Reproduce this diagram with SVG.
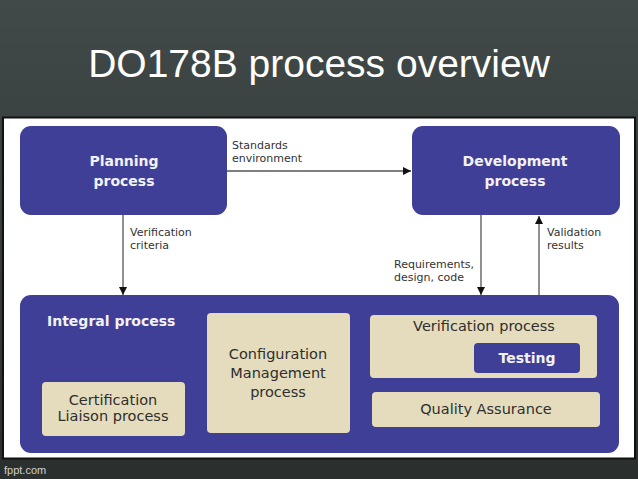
<svg xmlns="http://www.w3.org/2000/svg" width="638" height="479" viewBox="0 0 638 479">
<defs>
<linearGradient id="bg" x1="0" y1="0" x2="0" y2="1">
<stop offset="0" stop-color="#414a49"/>
<stop offset="1" stop-color="#2a2f2e"/>
</linearGradient>
<marker id="ah" viewBox="0 0 10 10" refX="10" refY="5" markerWidth="8" markerHeight="8" markerUnits="userSpaceOnUse" orient="auto">
<path d="M0,0 L10,5 L0,10 z" fill="#111"/>
</marker>
<style>
.purple{fill:#403f98}
.beige{fill:#e5dbbd}
.bw{font-family:"DejaVu Sans",Verdana,sans-serif;font-weight:bold;fill:#f2f2f2;font-size:14px}
.bt{font-family:"DejaVu Sans",Verdana,sans-serif;fill:#2e2e2e;font-size:14.5px}
.sm{font-family:"DejaVu Sans",Verdana,sans-serif;fill:#333;font-size:11px}
.ln{stroke:#555;stroke-width:1.3;fill:none}
</style>
</defs>
<rect x="0" y="0" width="638" height="479" fill="url(#bg)"/>
<rect x="0" y="458" width="638" height="21" fill="#2b302f"/>
<text x="319" y="77" text-anchor="middle" font-family="Liberation Sans, Arial, sans-serif" font-size="39" fill="#ffffff">DO178B process overview</text>
<rect x="3" y="117.5" width="632" height="341" fill="#ffffff" stroke="#111" stroke-width="2"/>
<text x="4" y="474" font-family="Liberation Sans, Arial, sans-serif" font-size="11" fill="#d0d0d0">fppt.com</text>

<g id="planning">
<rect class="purple" x="20" y="126" width="207" height="89" rx="11"/>
<text class="bw" x="124" y="166" text-anchor="middle">Planning</text>
<text class="bw" x="124" y="186" text-anchor="middle">process</text>
</g>
<g id="development">
<rect class="purple" x="412" y="126" width="208" height="89" rx="11"/>
<text class="bw" x="515" y="166" text-anchor="middle">Development</text>
<text class="bw" x="515" y="186" text-anchor="middle">process</text>
</g>
<g id="integral">
<rect class="purple" x="20" y="295" width="599" height="158" rx="11"/>
<text class="bw" x="47" y="326" font-size="14.5">Integral process</text>
</g>
<g id="certification">
<rect class="beige" x="42" y="382" width="143" height="54" rx="4"/>
<text class="bt" x="113" y="405" text-anchor="middle">Certification</text>
<text class="bt" x="113" y="421" text-anchor="middle">Liaison process</text>
</g>
<g id="configuration">
<rect class="beige" x="207" y="313" width="143" height="120" rx="4"/>
<text class="bt" x="278" y="359" text-anchor="middle">Configuration</text>
<text class="bt" x="278" y="378" text-anchor="middle">Management</text>
<text class="bt" x="278" y="397" text-anchor="middle">process</text>
</g>
<g id="verification">
<rect class="beige" x="370" y="315" width="227" height="63" rx="4"/>
<text class="bt" x="484" y="331" text-anchor="middle">Verification process</text>
</g>
<g id="testing">
<rect class="purple" x="474" y="343" width="106" height="30" rx="4"/>
<text class="bw" x="527" y="363" text-anchor="middle">Testing</text>
</g>
<g id="qa">
<rect class="beige" x="372" y="392" width="228" height="35" rx="4"/>
<text class="bt" x="486" y="414" text-anchor="middle">Quality Assurance</text>
</g>

<g id="connectors">
<line class="ln" x1="227" y1="171" x2="411" y2="171" marker-end="url(#ah)"/>
<line class="ln" x1="123" y1="215" x2="123" y2="295" marker-end="url(#ah)"/>
<line class="ln" x1="481" y1="215" x2="481" y2="295" marker-end="url(#ah)"/>
<line class="ln" x1="539" y1="295" x2="539" y2="216" marker-end="url(#ah)"/>
<text class="sm" x="232" y="149">Standards</text>
<text class="sm" x="232" y="162">environment</text>
<text class="sm" x="130" y="236">Verification</text>
<text class="sm" x="130" y="249">criteria</text>
<text class="sm" x="394" y="268">Requirements,</text>
<text class="sm" x="394" y="281">design, code</text>
<text class="sm" x="547" y="236">Validation</text>
<text class="sm" x="547" y="249">results</text>
</g>
</svg>
